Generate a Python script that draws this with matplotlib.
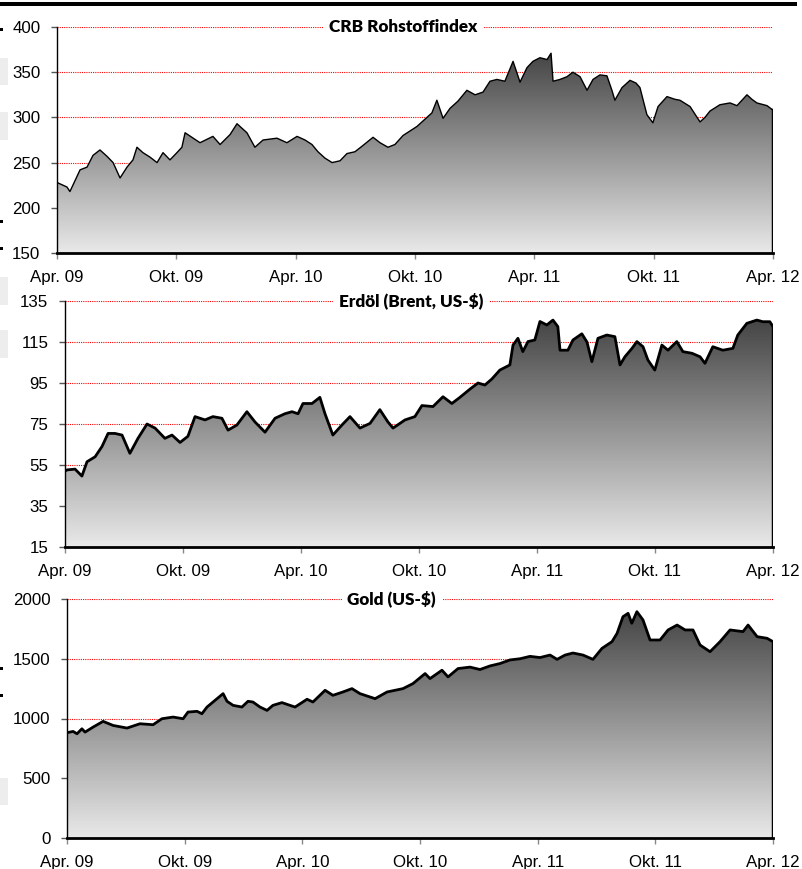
import numpy as np
import matplotlib
matplotlib.use("Agg")
from matplotlib import pyplot as plt
from matplotlib.colors import LinearSegmentedColormap
from matplotlib.patches import Rectangle

# x axis: months since April 2009
x_ticks = [0, 6, 12, 18, 24, 30, 36]
x_labels = ["Apr. 09", "Okt. 09", "Apr. 10", "Okt. 10", "Apr. 11", "Okt. 11", "Apr. 12"]

crb_months = [0.0, 0.5, 0.65, 0.8, 1.16, 1.51, 1.81, 2.16, 2.51, 2.82, 3.17, 3.52, 3.82, 4.02,
              4.32, 4.68, 5.03, 5.33, 5.68, 6.03, 6.28, 6.44, 7.19, 7.84, 8.20, 8.70, 9.05, 9.55,
              9.95, 10.36, 11.06, 11.56, 12.07, 12.47, 12.82, 13.12, 13.47, 13.83, 14.23, 14.58,
              14.98, 15.33, 15.89, 16.24, 16.64, 16.99, 17.40, 17.75, 18.10, 18.50, 18.85, 19.10,
              19.41, 19.76, 20.16, 20.61, 21.02, 21.42, 21.77, 22.12, 22.52, 22.93, 23.28, 23.63,
              23.93, 24.28, 24.64, 24.84, 24.94, 25.29, 25.64, 25.94, 26.30, 26.65, 26.95, 27.30,
              27.65, 27.90, 28.05, 28.41, 28.81, 29.11, 29.31, 29.66, 29.96, 30.22, 30.67, 31.07,
              31.32, 31.83, 32.33, 32.58, 32.83, 33.33, 33.84, 34.19, 34.69, 34.94, 35.19, 35.70, 36.0]
crb_values = [228, 223, 218, 225, 242, 245, 258, 264, 257, 250, 233, 245, 253, 267,
              261, 256, 250, 261, 253, 261, 267, 283, 272, 279, 270, 281, 293, 283,
              267, 275, 277, 272, 279, 275, 270, 262, 255, 250, 252, 260,
              262, 268, 278, 272, 267, 270, 280, 285, 290, 298, 305, 319,
              299, 310, 318, 330, 325, 328, 340, 342, 340, 362, 339, 355,
              362, 366, 364, 371, 340, 342, 345, 350, 345, 330, 342, 347,
              346, 330, 319, 333, 341, 338, 333, 303, 294, 312, 323, 320,
              319, 312, 295, 300, 307, 314, 316, 313, 325, 320, 316, 313, 308]

brent_months = [0.0, 0.10, 0.51, 0.86, 1.12, 1.53, 1.88, 2.19, 2.54, 2.90, 3.30, 3.71, 4.17, 4.58,
                5.08, 5.44, 5.85, 6.25, 6.61, 7.12, 7.52, 7.98, 8.29, 8.74, 9.25, 9.66, 10.17,
                10.68, 11.18, 11.54, 11.85, 12.10, 12.56, 12.96, 13.22, 13.62, 14.08, 14.49, 15.00,
                15.51, 16.01, 16.42, 16.68, 17.29, 17.79, 18.15, 18.71, 19.22, 19.67, 20.08, 20.59,
                21.00, 21.35, 21.71, 22.11, 22.62, 22.78, 23.03, 23.28, 23.54, 23.89, 24.15, 24.50,
                24.81, 25.06, 25.17, 25.57, 25.83, 26.28, 26.54, 26.79, 27.10, 27.55, 27.96, 28.22,
                28.47, 28.83, 29.08, 29.39, 29.64, 29.99, 30.35, 30.66, 31.11, 31.42, 31.88, 32.29,
                32.54, 32.94, 33.45, 33.96, 34.21, 34.67, 35.18, 35.48, 35.84, 36.0]
brent_values = [52, 52.6, 53, 49.6, 56.6, 59, 64, 70.4, 70.4, 69.6, 60.7, 68, 75, 73,
                68, 69.6, 66, 69, 78.6, 77, 78.6, 77.8, 72, 74.5, 81, 76, 71,
                77.8, 80, 81, 80, 85, 85, 88, 80, 69.6, 74.5, 78.6, 73,
                75.3, 82, 76, 73, 77, 78.6, 84, 83.5, 88.3, 85, 88, 92,
                95, 94, 97, 101.3, 103.8, 113.5, 116.8, 110.3, 115.2, 116, 125, 123.3,
                125.7, 122.5, 111, 111, 116, 119, 115, 105.4, 116.8, 118.4, 117.6, 103.8,
                107.8, 111.9, 115.2, 112.7, 106.2, 101.3, 113.5, 111, 115.2, 110.3, 109.5, 107.8,
                104.6, 112.7, 111, 111.9, 118.4, 124.1, 125.7, 124.9, 124.9, 122.5]

gold_months = [0.0, 0.31, 0.51, 0.76, 0.92, 1.33, 1.84, 2.35, 3.06, 3.72, 4.39, 4.84, 5.41, 5.92,
               6.17, 6.63, 6.88, 7.14, 7.55, 7.96, 8.16, 8.47, 8.92, 9.23, 9.48, 9.84, 10.20,
               10.50, 10.96, 11.37, 11.63, 12.24, 12.54, 13.16, 13.56, 14.07, 14.53, 14.94, 15.71,
               16.32, 17.13, 17.64, 18.26, 18.51, 19.12, 19.43, 19.94, 20.55, 21.06, 21.57, 22.08,
               22.59, 23.10, 23.61, 24.12, 24.63, 24.99, 25.40, 25.80, 26.31, 26.82, 27.28, 27.79,
               28.05, 28.35, 28.61, 28.80, 29.06, 29.37, 29.73, 30.24, 30.65, 31.11, 31.52, 31.92,
               32.28, 32.79, 33.30, 33.81, 34.47, 34.73, 35.19, 35.70, 36.0]
gold_values = [881, 892, 872, 914, 886, 928, 976, 942, 920, 956, 948, 998, 1012, 998,
               1054, 1060, 1040, 1096, 1152, 1208, 1144, 1110, 1096, 1144, 1138, 1096, 1068,
               1110, 1133, 1110, 1096, 1161, 1138, 1236, 1194, 1222, 1250, 1208, 1166,
               1222, 1250, 1292, 1376, 1334, 1404, 1348, 1418, 1430, 1410, 1440, 1460,
               1490, 1500, 1520, 1510, 1531, 1495, 1531, 1548, 1531, 1495, 1587, 1643,
               1713, 1852, 1880, 1797, 1894, 1825, 1657, 1657, 1741, 1782, 1741, 1741,
               1615, 1559, 1643, 1741, 1727, 1782, 1685, 1671, 1643]

W, H = 802, 869
plt.rcParams["font.family"] = ["Liberation Sans", "DejaVu Sans"]

gray_cmap = LinearSegmentedColormap.from_list("fill", ["#e9e9e9", "#454545"])


def px_axes(left, top, right, bottom):
    return [left / W, 1 - bottom / H, (right - left) / W, (bottom - top) / H]


def draw_panel(fig, rect, months, values, yticks, title, title_x, lw):
    ax = fig.add_axes(rect)
    ymin, ymax = yticks[0], yticks[-1]

    poly = ax.fill_between(months, values, ymin, facecolor="none", edgecolor="none")
    grad = np.linspace(1, 0, 256).reshape(-1, 1)
    img = ax.imshow(grad, extent=[months[0], months[-1], ymin, max(values)],
                    aspect="auto", cmap=gray_cmap, origin="upper", zorder=2)
    img.set_clip_path(poly.get_paths()[0], ax.transData)

    ax.plot(months, values, color="black", lw=lw, zorder=4, solid_joinstyle="round")
    ax.plot([months[-1], months[-1]], [values[-1], ymin], color="black", lw=2.5, zorder=4)

    ax.set_xlim(0, 36)
    ax.set_ylim(ymin, ymax)
    ax.set_xticks(x_ticks)
    ax.set_xticklabels(x_labels)
    ax.set_yticks(yticks)
    ax.yaxis.grid(True, color="red", linestyle=(0, (1, 1)), lw=0.8)
    ax.set_axisbelow(True)

    for s in ["top", "right"]:
        ax.spines[s].set_visible(False)
    ax.spines["left"].set_linewidth(1)
    ax.spines["bottom"].set_linewidth(2)
    ax.spines["bottom"].set_zorder(5)

    ax.tick_params(axis="y", direction="out", length=4, width=1, color="#555555",
                   pad=8, labelsize=12.2)
    ax.tick_params(axis="x", direction="out", length=4, width=1, color="#888888",
                   pad=8.5, labelsize=12.2)

    ax.text(title_x, 1.0, title, transform=ax.transAxes, ha="center", va="center",
            fontsize=12.3, fontweight="heavy",
            family=["Lato", "DejaVu Sans"], zorder=6,
            bbox=dict(facecolor="white", edgecolor="none", pad=4))
    return ax


fig = plt.figure(figsize=(W / 100, H / 100), dpi=100)

draw_panel(fig, px_axes(57, 27, 773, 253), crb_months, crb_values,
           [150, 200, 250, 300, 350, 400], "CRB Rohstoffindex", 0.483, 1.0)
draw_panel(fig, px_axes(65, 301, 773, 547), brent_months, brent_values,
           [15, 35, 55, 75, 95, 115, 135], "Erdöl (Brent, US-$)", 0.489, 2.0)
draw_panel(fig, px_axes(67, 599, 773, 838), gold_months, gold_values,
           [0, 500, 1000, 1500, 2000], "Gold (US-$)", 0.460, 2.0)

# black bar along the top edge
fig.add_artist(Rectangle((0, 1 - 6 / H), 797 / W, 4 / H, transform=fig.transFigure,
                         facecolor="black", edgecolor="none"))
# small leftovers at the left edge
for y0, y1 in [(58, 85), (112, 140), (277, 305), (330, 358), (778, 805)]:
    fig.add_artist(Rectangle((0, 1 - y1 / H), 8 / W, (y1 - y0) / H, transform=fig.transFigure,
                             facecolor="#ededed", edgecolor="none"))
for y0 in [28, 220, 247, 667, 694]:
    fig.add_artist(Rectangle((0, 1 - (y0 + 3) / H), 3 / W, 3 / H, transform=fig.transFigure,
                             facecolor="black", edgecolor="none"))

fig.savefig("out.png", dpi=100)
